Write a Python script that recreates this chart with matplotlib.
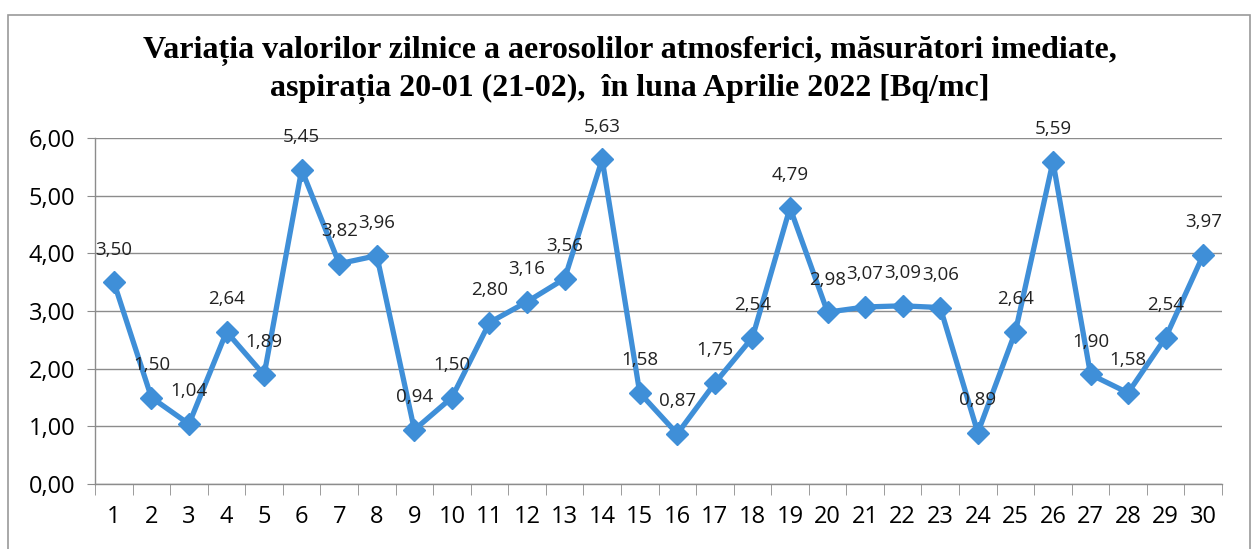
import numpy as np
import matplotlib
matplotlib.use('Agg')
import matplotlib.pyplot as plt
from matplotlib.patches import Rectangle

# Daily values, April 2022 [Bq/mc]
days = list(range(1, 31))
values = [3.50, 1.50, 1.04, 2.64, 1.89, 5.45, 3.82, 3.96, 0.94, 1.50,
          2.80, 3.16, 3.56, 5.63, 1.58, 0.87, 1.75, 2.54, 4.79, 2.98,
          3.07, 3.09, 3.06, 0.89, 2.64, 5.59, 1.90, 1.58, 2.54, 3.97]
yticks = [0, 1, 2, 3, 4, 5, 6]
title = ("Variația valorilor zilnice a aerosolilor atmosferici, măsurători imediate,\n"
         "aspirația 20-01 (21-02),  în luna Aprilie 2022 [Bq/mc]")

blue = '#3F8FD8'
grey = '#8C8C8C'

fig = plt.figure(figsize=(12.59, 5.49), dpi=100)
ax = fig.add_axes([0.0755, 0.1184, 0.8951, 0.6302])

# chart frame
fig.patches.append(Rectangle((8 / 1259, -0.01), 1242 / 1259, 1 - 15 / 549 + 0.01,
                             transform=fig.transFigure, fill=False,
                             edgecolor='#9A9A9A', linewidth=1.2))

ax.plot(days, values, color=blue, linewidth=3.8, marker='D', markersize=11,
        markerfacecolor=blue, markeredgecolor=blue, zorder=3)

for d, v in zip(days, values):
    ax.annotate(f"{v:.2f}".replace('.', ','), (d, v), xytext=(0, 17),
                textcoords='offset points', ha='center', va='bottom',
                fontsize=13.5, family='Open Sans', color='#222222')

ax.set_xlim(0.5, 30.5)
ax.set_ylim(0, 6)
ax.set_yticks(yticks)
ax.set_yticklabels([f"{t:.2f}".replace('.', ',') for t in yticks],
                   fontsize=17, family='Open Sans')
ax.set_xticks(days)
ax.set_xticklabels([str(d) for d in days], fontsize=17, family='Open Sans')
ax.set_xticks(np.arange(0.5, 31, 1), minor=True)
ax.tick_params(axis='x', which='major', length=0, pad=15)
ax.tick_params(axis='x', which='minor', length=8, color=grey, direction='out')
ax.tick_params(axis='y', length=6, color=grey, pad=8)

ax.grid(axis='y', color=grey, linewidth=1)
ax.set_axisbelow(True)
for s in ('top', 'right'):
    ax.spines[s].set_visible(False)
for s in ('left', 'bottom'):
    ax.spines[s].set_color(grey)
    ax.spines[s].set_linewidth(1)

fig.text(0.5, 0.935, title, ha='center', va='top', fontsize=23,
         family='Liberation Serif', fontweight='bold', linespacing=1.35)

fig.savefig('out.png', dpi=100)
